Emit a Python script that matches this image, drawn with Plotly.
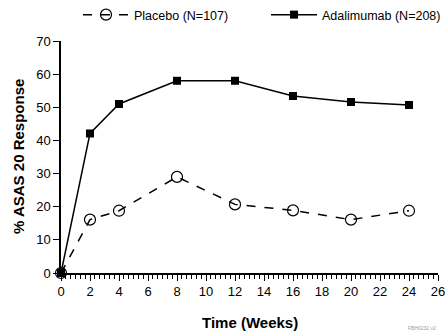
import plotly.graph_objects as go

weeks = [0, 2, 4, 8, 12, 16, 20, 24]
placebo = [0, 16.1, 18.8, 29.0, 20.7, 18.9, 16.1, 18.8]
adalimumab = [0, 42.1, 51.0, 58.0, 58.0, 53.4, 51.6, 50.7]
x_ticks = list(range(0, 27, 2))
y_ticks = list(range(0, 71, 10))

FONT = "Liberation Sans Narrow, Arial Narrow, Liberation Sans, sans-serif"

fig = go.Figure()
fig.add_trace(go.Scatter(
    x=weeks, y=placebo, name="Placebo (N=107)", mode="lines+markers",
    line=dict(color="black", width=1.5, dash="dash"),
    marker=dict(symbol="circle-open", size=11, color="black", line=dict(width=1.2)),
    cliponaxis=False, legend="legend",
))
fig.add_trace(go.Scatter(
    x=weeks, y=adalimumab, name="Adalimumab (N=208)", mode="lines+markers",
    line=dict(color="black", width=1.5),
    marker=dict(symbol="square", size=8, color="black"),
    cliponaxis=False, legend="legend2",
))

leg_common = dict(yref="container", y=1.0, yanchor="top", xref="container",
                  xanchor="left", font=dict(size=12.5), itemwidth=46,
                  bgcolor="rgba(0,0,0,0)")

# plot area: x 61..438 px, y 41..273 px
fig.update_layout(
    width=448, height=335,
    margin=dict(l=61, r=10, t=41, b=62, autoexpand=False),
    paper_bgcolor="white", plot_bgcolor="white",
    font=dict(family=FONT, size=13, color="black"),
    showlegend=True,
    legend=dict(x=78 / 448, **leg_common),
    legend2=dict(x=266 / 448, **leg_common),
    xaxis=dict(range=[0, 26], tickvals=x_ticks, showgrid=False, zeroline=False,
               showline=True, linecolor="black", linewidth=1.5,
               ticks="outside", ticklen=6, tickwidth=1.2, tickcolor="black",
               minor=dict(dtick=1/3, tick0=0, ticks="outside", ticklen=4, tickwidth=1, tickcolor="black"),
               tickfont=dict(size=13)),
    yaxis=dict(range=[0, 70], tickvals=y_ticks, showgrid=False, zeroline=False,
               showline=True, linecolor="black", linewidth=1.5,
               ticks="outside", ticklen=6, tickwidth=1.2, tickcolor="black",
               tickfont=dict(size=13)),
)
fig.add_annotation(text="<b>Time (Weeks)</b>", x=0.5, y=(273 - 322) / 232, xref="paper", yref="paper",
                   xanchor="center", yanchor="middle", showarrow=False, font=dict(size=15))
fig.add_annotation(text="<b>% ASAS 20 Response</b>", x=(18 - 61) / 377, y=0.5, xref="paper", yref="paper",
                   xanchor="center", yanchor="middle", showarrow=False, textangle=-90,
                   font=dict(size=15))
fig.add_annotation(text="FBH0232 v2", x=1.0, y=(273 - 328) / 232, xref="paper", yref="paper",
                   xanchor="right", yanchor="middle", showarrow=False,
                   font=dict(size=5, color="#999999"))

fig.write_html("out.html")
